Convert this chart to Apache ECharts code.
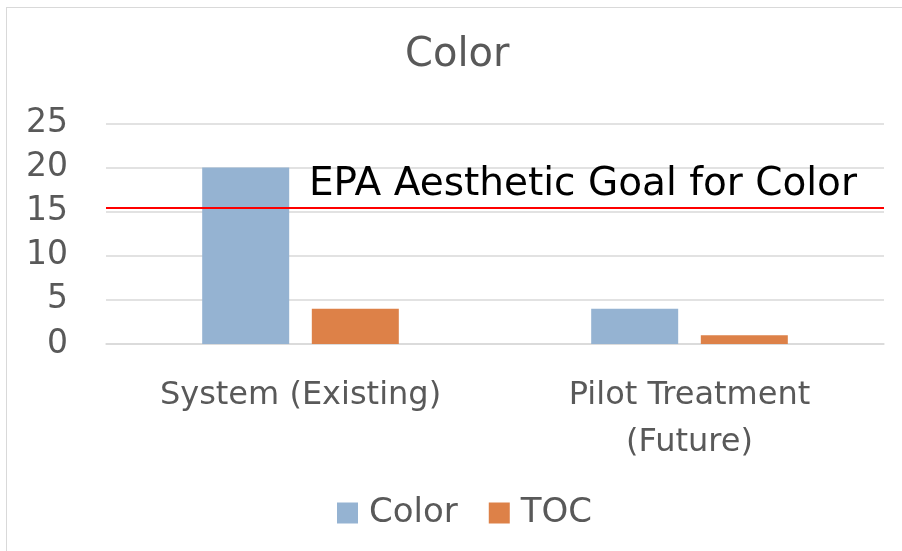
<!DOCTYPE html>
<html>
<head>
<meta charset="utf-8">
<script src="https://cdn.jsdelivr.net/npm/echarts@6/dist/echarts.min.js"></script>
<style>
  html, body { margin: 0; padding: 0; background: #fff; }
  #frame { position: absolute; left: 6px; top: 7px; width: 1000px; height: 700px; border: 1.5px solid #d9d9d9; }
  #chart { position: absolute; left: 0; top: 0; width: 902px; height: 551px; }
</style>
</head>
<body>
<div id="frame"></div>
<div id="chart"></div>
<script>
// chart data
const categories = ['System (Existing)', 'Pilot Treatment\n(Future)']
const colorValues = [20, 4]
const tocValues = [4, 1]
const epaGoal = 15.45
const goalLabel = 'EPA Aesthetic Goal for Color'
const yTicks = { min: 0, max: 25, interval: 5 }

const fontFamily = 'DejaVu Sans'
const grey = '#595959'

const chart = echarts.init(document.getElementById('chart'), null, { renderer: 'canvas' })

chart.setOption({
  animation: false,
  textStyle: { fontFamily: fontFamily },
  title: {
    text: 'Color',
    left: 400,
    top: 31,
    textStyle: { fontFamily: fontFamily, fontSize: 40, fontWeight: 'normal', color: grey }
  },
  legend: {
    data: ['Color', 'TOC'],
    bottom: 16,
    left: 332,
    itemWidth: 21,
    itemHeight: 21,
    itemGap: 31,
    icon: 'rect',
    textStyle: { fontFamily: fontFamily, fontSize: 34, color: grey, padding: [0, 0, 0, 6] }
  },
  grid: {
    left: 106,
    right: 18,
    top: 123.5,
    bottom: 207,
    containLabel: false
  },
  xAxis: {
    type: 'category',
    data: categories,
    axisLine: { show: true, lineStyle: { color: '#d9d9d9', width: 1.5 } },
    axisTick: { show: false },
    axisLabel: {
      color: grey,
      fontSize: 32,
      lineHeight: 47,
      margin: 28,
      interval: 0
    }
  },
  yAxis: {
    type: 'value',
    min: yTicks.min,
    max: yTicks.max,
    interval: yTicks.interval,
    axisLine: { show: false },
    axisTick: { show: false },
    axisLabel: { color: grey, fontSize: 33, margin: 38 },
    splitLine: { lineStyle: { color: '#d9d9d9', width: 1.5 } }
  },
  series: [
    {
      name: 'Color',
      type: 'bar',
      data: colorValues,
      barWidth: 87,
      barGap: '26%',
      itemStyle: { color: '#95B3D2' },
      markLine: {
        silent: true,
        symbol: 'none',
        lineStyle: { color: '#ff0000', width: 2, type: 'solid' },
        label: {
          show: true,
          formatter: goalLabel,
          position: 'insideEndTop',
          distance: [27, 3],
          color: '#000',
          fontSize: 39,
          fontFamily: fontFamily
        },
        data: [{ yAxis: epaGoal }]
      }
    },
    {
      name: 'TOC',
      type: 'bar',
      data: tocValues,
      barWidth: 87,
      itemStyle: { color: '#DD8148' }
    }
  ]
})
</script>
</body>
</html>
